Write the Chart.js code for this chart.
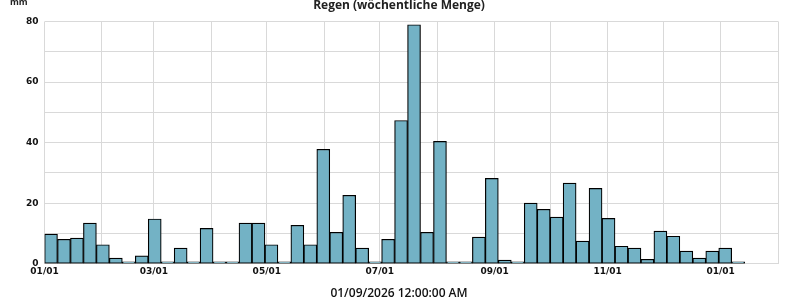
<!DOCTYPE html>
<html>
<head>
<meta charset="utf-8">
<script src="https://cdn.jsdelivr.net/npm/chart.js@4"></script>
<style>
  html, body { margin: 0; padding: 0; background: #fff; }
  #wrap { width: 800px; height: 300px; }
</style>
</head>
<body>
<div id="wrap"><canvas id="regenChart" width="800" height="300"></canvas></div>
<script>
// erste Woche und Achsenbereich
const firstWeek = "2026-01-01";
const axisStart = "2026-01-01";
const axisEnd = "2027-02-01";

// Wochensummen Regen in mm
const rainValues = [
  9.8, 8.1, 8.5, 13.4, 6.3, 1.9, 0.3, 2.6, 14.8, 0,
  5.2, 0, 11.7, 0, 0, 13.4, 13.4, 6.3, 0, 12.7,
  6.3, 37.8, 10.4, 22.6, 5.2, 0.6, 8.1, 47.3, 78.9, 10.4,
  40.4, 0, 0.2, 8.8, 28.2, 1.2, 0.2, 20.0, 18.0, 15.4,
  26.6, 7.5, 24.9, 15.0, 5.8, 5.2, 1.5, 10.8, 9.1, 4.2,
  1.9, 4.2, 5.2, 0,
];

// Monatsanfaenge fuer das Gitter, beschriftet wird jeder zweite
const monthTicks = [
  "2026-01-01", "2026-02-01", "2026-03-01", "2026-04-01", "2026-05-01",
  "2026-06-01", "2026-07-01", "2026-08-01", "2026-09-01", "2026-10-01",
  "2026-11-01", "2026-12-01", "2027-01-01", "2027-02-01",
];
const monthLabels = [
  "01/01", "", "03/01", "", "05/01", "", "07/01", "", "09/01", "", "11/01", "", "01/01", "",
];

const yTickLabels = ["0", "", "20", "", "40", "", "60", "", "80"];

const chartTitle = "Regen (wöchentliche Menge)";
const unitLabel = "mm";
const bottomLabel = "01/09/2026 12:00:00 AM";

const DAY = 86400000;
const dayOf = (s) => (Date.parse(s + "T00:00:00Z") - Date.parse(axisStart + "T00:00:00Z")) / DAY;

// Balken in der Wochenmitte
const weekStart = dayOf(firstWeek);
const rainData = rainValues.map((v, i) => ({ x: weekStart + i * 7 + 3.5, y: v }));

const unitPlugin = {
  id: "unitLabel",
  afterDraw(chart) {
    const ctx = chart.ctx;
    ctx.save();
    ctx.font = "bold 9px 'Open Sans'";
    ctx.fillStyle = "#222";
    ctx.textAlign = "left";
    ctx.textBaseline = "middle";
    ctx.fillText(unitLabel, 10, 2);
    ctx.restore();
  },
};

const ctx = document.getElementById("regenChart").getContext("2d");

new Chart(ctx, {
  type: "bar",
  data: {
    datasets: [
      {
        label: "Regen",
        data: rainData,
        backgroundColor: "rgb(115, 178, 197)",
        borderColor: "#000",
        borderWidth: 1.2,
        borderSkipped: false,
        barPercentage: 1,
        categoryPercentage: 1,
        minBarLength: 2,
      },
    ],
  },
  options: {
    responsive: false,
    animation: false,
    layout: { padding: { left: 20, right: 22, top: 0, bottom: 0 } },
    scales: {
      x: {
        type: "linear",
        offset: false,
        min: dayOf(axisStart),
        max: dayOf(axisEnd),
        afterBuildTicks: (scale) => {
          scale.ticks = monthTicks.map((m) => ({ value: dayOf(m) }));
        },
        ticks: {
          autoSkip: false,
          maxRotation: 0,
          padding: 2,
          color: "#111",
          font: { family: "'DejaVu Sans'", size: 9, weight: "bold" },
          callback: (value, index) => monthLabels[index],
        },
        grid: { color: "#d9d9d9", drawTicks: false, offset: false },
        border: { color: "#d9d9d9" },
      },
      y: {
        min: 0,
        max: 80,
        ticks: {
          stepSize: 10,
          padding: 6,
          color: "#111",
          font: { family: "'DejaVu Sans'", size: 9, weight: "bold" },
          callback: (value, index) => yTickLabels[index],
        },
        grid: { color: "#d9d9d9", drawTicks: false },
        border: { display: false },
      },
    },
    plugins: {
      legend: { display: false },
      tooltip: { enabled: false },
      title: {
        display: true,
        text: chartTitle,
        color: "#222",
        font: { family: "'Open Sans'", size: 12, weight: "bold" },
        padding: { top: -2, bottom: 9 },
      },
      subtitle: {
        display: true,
        position: "bottom",
        text: bottomLabel,
        color: "#111",
        font: { family: "'Open Sans'", size: 12, weight: "600" },
        padding: { top: 8, bottom: -1 },
      },
    },
  },
  plugins: [unitPlugin],
});
</script>
</body>
</html>
